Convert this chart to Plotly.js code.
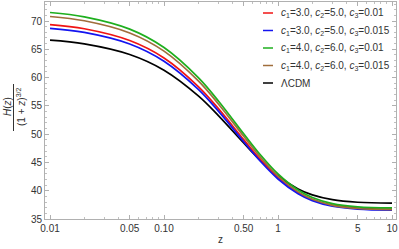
<!DOCTYPE html>
<html><head><meta charset="utf-8">
<script src="https://cdn.plot.ly/plotly-3.0.1.min.js"></script>
<style>html,body{margin:0;padding:0;background:#fff;}#chart{width:399px;height:249px;}</style>
</head><body><div id="chart"></div>
<script>
const z = [0.01, 0.02, 0.05, 0.1, 0.2, 0.3, 0.5, 0.7, 1, 1.5, 2, 3, 5, 10];
const hRed   = [69.36, 68.63, 66.55, 63.47, 58.41, 54.51, 49.03, 45.53, 42.34, 39.68, 38.45, 37.44, 36.92, 36.73];
const hBlue  = [68.71, 67.99, 65.94, 62.89, 57.91, 54.06, 48.66, 45.21, 42.07, 39.46, 38.25, 37.26, 36.74, 36.56];
const hGreen = [71.50, 70.73, 68.56, 65.31, 59.99, 55.87, 50.07, 46.36, 42.96, 40.13, 38.81, 37.73, 37.16, 36.96];
const hBrown = [70.80, 70.04, 67.89, 64.68, 59.41, 55.34, 49.62, 45.94, 42.59, 39.79, 38.48, 37.42, 36.86, 36.66];
const hLCDM  = [66.62, 65.96, 64.08, 61.30, 56.76, 53.28, 48.44, 45.37, 42.60, 40.31, 39.26, 38.41, 37.96, 37.80];
const seriesNames = [
  '<i>c</i><sub>1</sub>=3.0, <i>c</i><sub>2</sub>=5.0, <i>c</i><sub>3</sub>=0.01',
  '<i>c</i><sub>1</sub>=3.0, <i>c</i><sub>2</sub>=5.0, <i>c</i><sub>3</sub>=0.015',
  '<i>c</i><sub>1</sub>=4.0, <i>c</i><sub>2</sub>=6.0, <i>c</i><sub>3</sub>=0.01',
  '<i>c</i><sub>1</sub>=4.0, <i>c</i><sub>2</sub>=6.0, <i>c</i><sub>3</sub>=0.015',
  '\u039BCDM'
];
const xTickVals = [0.01, 0.05, 0.1, 0.5, 1, 5, 10];
const xTickText = ['0.01', '0.05', '0.10', '0.50', '1', '5', '10'];
const xMinorVals = [0.02,0.03,0.04,0.06,0.07,0.08,0.09,0.2,0.3,0.4,0.6,0.7,0.8,0.9,2,3,4,6,7,8,9];
const yTickVals = [35, 40, 45, 50, 55, 60, 65, 70];

const colors = ['rgb(240,20,20)', 'rgb(20,20,240)', 'rgb(30,175,30)', 'rgb(160,110,60)', '#000000'];
const allY = [hRed, hBlue, hGreen, hBrown, hLCDM];
const order = [4, 0, 1, 3, 2];
const traces = order.map(i => ({
  x: z, y: allY[i], type: 'scatter', mode: 'lines', name: seriesNames[i],
  line: {color: colors[i], width: 1.7, shape: 'spline', smoothing: 1},
  showlegend: false, hoverinfo: 'skip'
}));

const W = 399, H = 249, ml = 45, mr = 3, mt = 2, mb = 30;
const pw = W - ml - mr, ph = H - mt - mb;
const px = x => (x - ml) / pw;
const py = y => (H - mb - y) / ph;

const annotations = [];
const shapes = [];
const legY = [13, 30.5, 48, 65.5, 83];
for (let i = 0; i < 5; i++) {
  shapes.push({type: 'line', xref: 'paper', yref: 'paper', x0: px(263), x1: px(273), y0: py(legY[i]), y1: py(legY[i]),
    line: {color: colors[i], width: 1.5}});
  annotations.push({xref: 'paper', yref: 'paper', x: px(279), y: py(legY[i]), xanchor: 'left', yanchor: 'middle',
    text: seriesNames[i], showarrow: false, font: {size: 10, color: '#333', family: 'Liberation Sans, Arial, sans-serif'}});
}
// y-axis title as a rotated fraction
annotations.push({xref: 'paper', yref: 'paper', x: px(7), y: py(107), xanchor: 'center', yanchor: 'middle', textangle: -90,
  text: '<i>H</i>(<i>z</i>)', showarrow: false, font: {size: 10, color: '#333', family: 'Liberation Sans, Arial, sans-serif'}});
annotations.push({xref: 'paper', yref: 'paper', x: px(21), y: py(107), xanchor: 'center', yanchor: 'middle', textangle: -90,
  text: '(1 + <i>z</i>)<sup>3/2</sup>', showarrow: false, font: {size: 10, color: '#333', family: 'Liberation Sans, Arial, sans-serif'}});
shapes.push({type: 'line', xref: 'paper', yref: 'paper', x0: px(13.5), x1: px(13.5), y0: py(84), y1: py(131),
  line: {color: '#333', width: 1}});

const axFont = {size: 10, color: '#333', family: 'Liberation Sans, Arial, sans-serif'};
const layout = {
  width: W, height: H,
  margin: {l: ml, r: mr, t: mt, b: mb, pad: 0},
  paper_bgcolor: '#fff', plot_bgcolor: '#fff',
  showlegend: false,
  xaxis: {
    type: 'log', range: [-2.044, 1.035],
    tickmode: 'array', tickvals: xTickVals, ticktext: xTickText,
    ticks: 'inside', ticklen: 4, tickcolor: '#b0b0b0', tickwidth: 1,
    minor: {tickmode: 'array', tickvals: xMinorVals, ticks: 'inside', ticklen: 2, tickcolor: '#c0c0c0'},
    showline: true, linecolor: '#b0b0b0', linewidth: 1, mirror: 'ticks',
    showgrid: false, zeroline: false, tickfont: axFont,
    title: {text: 'z', font: axFont, standoff: 2}
  },
  yaxis: {
    range: [35, 73.36],
    tickmode: 'array', tickvals: yTickVals,
    ticks: 'inside', ticklen: 4, tickcolor: '#b0b0b0', tickwidth: 1,
    minor: {dtick: 1, ticks: 'inside', ticklen: 2, tickcolor: '#c0c0c0'},
    showline: true, linecolor: '#b0b0b0', linewidth: 1, mirror: 'ticks',
    showgrid: false, zeroline: false, tickfont: axFont
  },
  annotations: annotations,
  shapes: shapes
};
Plotly.newPlot('chart', traces, layout, {staticPlot: true, displayModeBar: false});
</script>
</body></html>
